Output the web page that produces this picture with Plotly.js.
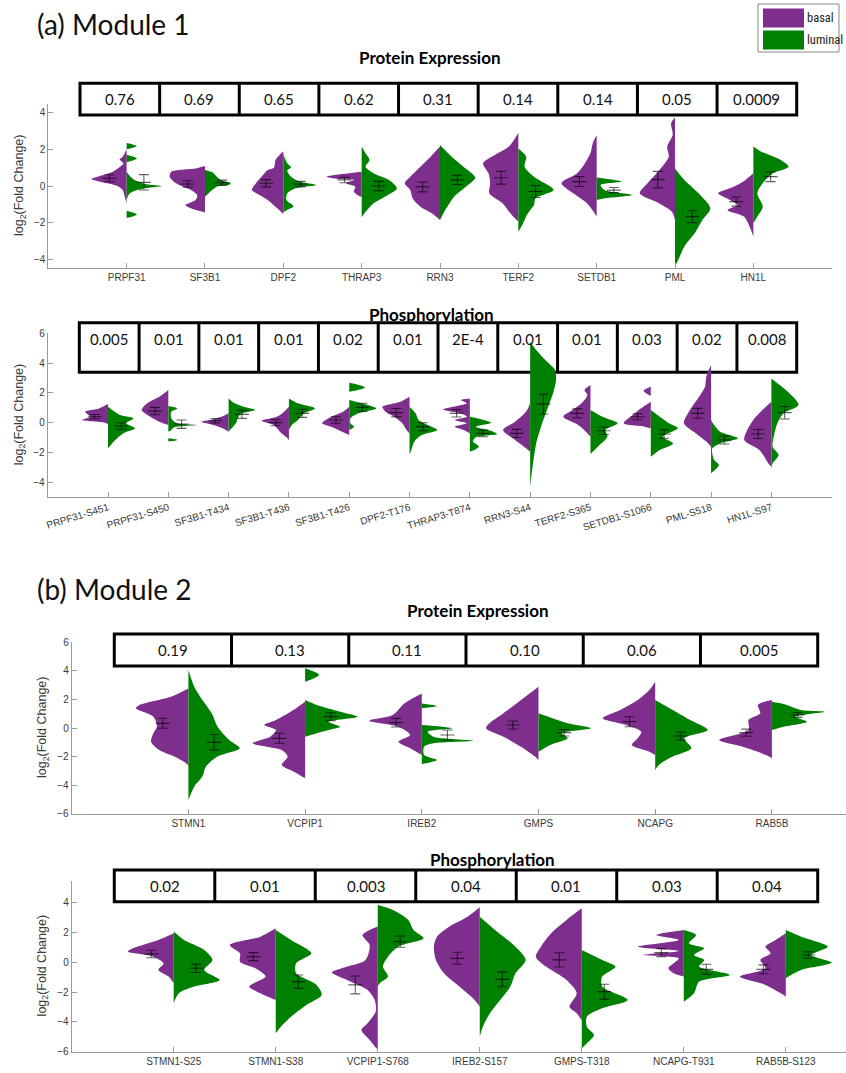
<!DOCTYPE html>
<html>
<head>
<meta charset="utf-8">
<script src="https://cdn.plot.ly/plotly-3.0.1.min.js"></script>
<style>html,body{margin:0;padding:0;background:#fff;}#chart{width:846px;height:1073px;}</style>
</head>
<body>
<div id="chart"></div>
<script>
// ---------------- DATA ----------------
const groups = ['basal', 'luminal'];

// Module 1 – Protein Expression
const p1Names = ['PRPF31','SF3B1','DPF2','THRAP3','RRN3','TERF2','SETDB1','PML','HN1L'];
const p1P = ['0.76','0.69','0.65','0.62','0.31','0.14','0.14','0.05','0.0009'];
const p1BasalDens = [
  [[2.0,0],[1.6,0.05],[1.45,0.09],[1.24,0.04],[1.0,0.1],[0.73,0.2],[0.5,0.37],[0.38,0.45],[0.24,0.35],[0,0.12],[-0.22,0.05],[-0.5,0.03],[-0.95,0]],
  [[1.09,0],[0.96,0.12],[0.78,0.43],[0.5,0.45],[0.24,0.4],[0.05,0.33],[-0.22,0.18],[-0.5,0.1],[-0.76,0.12],[-1.04,0.25],[-1.22,0.18],[-1.44,0]],
  [[1.9,0],[1.42,0.1],[1.0,0.12],[0.87,0.2],[0.5,0.28],[0.15,0.35],[-0.22,0.4],[-0.5,0.3],[-0.76,0.2],[-1.13,0.1],[-1.4,0.03],[-1.53,0]],
  [[0.78,0],[0.65,0.25],[0.5,0.45],[0.38,0.3],[0.33,0.1],[0.15,0.2],[-0.04,0.08],[-0.3,0.1],[-0.5,0.05],[-0.6,0]],
  [[2.15,0],[1.6,0.12],[1.05,0.25],[0.5,0.38],[0.15,0.45],[-0.22,0.38],[-0.67,0.35],[-1.13,0.25],[-1.5,0.1],[-1.85,0]],
  [[2.9,0],[2.15,0.12],[1.69,0.3],[1.24,0.45],[0.69,0.38],[0.15,0.36],[-0.4,0.37],[-0.95,0.2],[-1.5,0.1],[-1.95,0]],
  [[2.78,0],[2.33,0.05],[1.78,0.08],[1.24,0.15],[0.69,0.25],[0.15,0.45],[-0.4,0.3],[-0.95,0.12],[-1.4,0.04],[-1.67,0]],
  [[3.75,0],[3.42,0.05],[2.78,0.03],[2.15,0.1],[1.6,0.08],[0.87,0.2],[0.15,0.35],[-0.4,0.45],[-0.95,0.2],[-1.4,0.04],[-1.85,0]],
  [[0.69,0],[0.33,0.1],[-0.04,0.25],[-0.4,0.45],[-0.76,0.3],[-1.04,0.2],[-1.31,0.33],[-1.67,0.12],[-2.2,0.05],[-2.76,0]]
];
const p1LuminalDens = [
  [[2.35,0],[2.18,0.13],[2.0,0],[1.7,0],[1.5,0.13],[1.3,0],[0.78,0],[0.5,0.05],[0.33,0.1],[0.1,0.25],[0,0.45],[-0.15,0.2],[-0.4,0.04],[-0.76,0],[-1.35,0],[-1.55,0.13],[-1.75,0]],
  [[0.87,0],[0.73,0.1],[0.5,0.15],[0.33,0.2],[0.15,0.33],[0.05,0.3],[-0.04,0.15],[-0.3,0.07],[-0.58,0]],
  [[1.75,0],[1.24,0.05],[1.02,0.1],[0.84,0.05],[0.5,0.1],[0.24,0.2],[0.05,0.42],[-0.13,0.15],[-0.4,0.05],[-0.76,0.04],[-1.1,0.13],[-1.3,0.05],[-1.45,0]],
  [[2.15,0],[1.78,0.05],[1.42,0.1],[1.05,0.05],[0.7,0.15],[0.33,0.35],[-0.13,0.45],[-0.5,0.33],[-0.95,0.15],[-1.4,0.05],[-1.7,0]],
  [[2.24,0],[1.6,0.15],[1.05,0.3],[0.45,0.45],[-0.04,0.33],[-0.58,0.18],[-1.22,0.08],[-1.85,0]],
  [[2.05,0],[1.6,0.1],[1.05,0.08],[0.5,0.2],[-0.22,0.45],[-0.67,0.22],[-1.04,0.2],[-1.5,0.12],[-2.13,0.05],[-2.5,0]],
  [[0.47,0],[0.24,0.32],[0.05,0.05],[-0.22,0.1],[-0.49,0.45],[-0.67,0.1],[-0.76,0]],
  [[0.96,0],[0.33,0.12],[-0.4,0.3],[-1.22,0.45],[-1.85,0.35],[-2.58,0.25],[-3.3,0.12],[-4.04,0.04],[-4.4,0]],
  [[2.15,0],[1.87,0.1],[1.42,0.35],[1.05,0.45],[0.69,0.25],[0.15,0.12],[-0.4,0.05],[-1.13,0.12],[-1.67,0.05],[-2.04,0]]
];
const p1BasalMean = [0.42,0.11,0.15,0.33,-0.05,0.45,0.24,0.35,-0.85];
const p1BasalSem  = [0.19,0.18,0.2,0.15,0.27,0.35,0.27,0.45,0.25];
const p1LumMean   = [0.2,0.18,0.1,0,0.33,-0.3,-0.22,-1.67,0.51];
const p1LumSem    = [0.42,0.14,0.15,0.25,0.25,0.33,0.14,0.33,0.27];

// Module 1 – Phosphorylation
const p2Names = ['PRPF31-S451','PRPF31-S450','SF3B1-T434','SF3B1-T436','SF3B1-T426','DPF2-T176','THRAP3-T874','RRN3-S44','TERF2-S365','SETDB1-S1066','PML-S518','HN1L-S97'];
const p2P = ['0.005','0.01','0.01','0.01','0.02','0.01','2E-4','0.01','0.01','0.03','0.02','0.008'];
const p2BasalDens = [
  [[1.25,0],[0.96,0.15],[0.74,0.38],[0.4,0.3],[0.18,0.43],[0,0.05],[-0.1,0]],
  [[2.2,0],[1.74,0.15],[1.3,0.35],[0.85,0.44],[0.4,0.3],[0.07,0.15],[-0.16,0]],
  [[0.63,0],[0.4,0.12],[0.18,0.3],[0.07,0.45],[-0.16,0.25],[-0.38,0.1],[-0.6,0]],
  [[1.07,0],[0.74,0.08],[0.4,0.2],[0.13,0.45],[-0.16,0.25],[-0.6,0.15],[-0.94,0.05],[-1.16,0]],
  [[1.07,0],[0.74,0.1],[0.4,0.3],[-0.04,0.45],[-0.27,0.3],[-0.6,0.12],[-0.83,0]],
  [[1.74,0],[1.41,0.15],[1.07,0.45],[0.74,0.4],[0.4,0.25],[-0.04,0.12],[-0.49,0.05],[-0.72,0]],
  [[1.63,0],[1.52,0.15],[1.3,0.05],[0.89,0.44],[0.63,0.15],[0.4,0.05],[0.18,0.25],[-0.04,0.05],[-0.27,0.25],[-0.49,0.1],[-0.72,0]],
  [[1.3,0],[0.85,0.05],[0.51,0.12],[0.07,0.25],[-0.49,0.45],[-1.16,0.25],[-1.61,0.1],[-1.95,0]],
  [[2.53,0],[2.19,0.1],[1.86,0.05],[1.3,0.15],[0.85,0.3],[0.4,0.45],[-0.16,0.2],[-0.72,0.05],[-0.94,0]],
  [[2.42,0],[2.15,0.12],[1.79,0],[1.41,0],[1.19,0.08],[0.85,0.2],[0.51,0.3],[-0.04,0.45],[-0.27,0.1],[-0.38,0]],
  [[3.87,0],[3.09,0.08],[2.42,0.1],[1.74,0.2],[0.85,0.35],[-0.04,0.45],[-0.72,0.25],[-1.27,0.08],[-1.61,0]],
  [[1.41,0],[0.85,0.15],[0.18,0.3],[-0.49,0.4],[-1.16,0.45],[-1.83,0.2],[-2.73,0.05],[-2.95,0]]
];
const p2LuminalDens = [
  [[1.07,0],[0.51,0.2],[0.29,0.42],[-0.04,0.3],[-0.38,0.45],[-0.72,0.25],[-1.16,0.12],[-1.72,0]],
  [[1.12,0],[0.96,0.15],[0.74,0.05],[0.29,0.05],[-0.04,0.15],[-0.16,0.47],[-0.31,0.1],[-0.49,0.05],[-0.6,0],[-1.05,0],[-1.16,0.15],[-1.27,0]],
  [[1.63,0],[1.3,0.1],[1.07,0.25],[0.85,0.44],[0.58,0.2],[0.29,0.15],[-0.04,0.12],[-0.38,0.05],[-0.6,0]],
  [[1.63,0],[1.3,0.15],[0.96,0.43],[0.63,0.25],[0.18,0.15],[-0.16,0.05],[-0.49,0]],
  [[2.68,0],[2.37,0.26],[2.08,0],[1.52,0],[1.3,0.2],[0.96,0.45],[0.63,0.15],[0.29,0.02],[-0.04,0.02],[-0.27,0.08],[-0.49,0]],
  [[1.07,0],[0.63,0.1],[0.18,0.15],[-0.16,0.3],[-0.49,0.46],[-0.83,0.2],[-1.27,0.08],[-1.95,0.02],[-2.1,0]],
  [[0.4,0],[0,0.35],[-0.27,0.1],[-0.54,0.35],[-0.76,0.45],[-0.98,0.1],[-1.27,0.05],[-1.61,0.15],[-1.95,0]],
  [[5.44,0],[4.88,0.1],[4.2,0.25],[3.53,0.41],[2.86,0.43],[1.97,0.38],[0.85,0.28],[-0.27,0.18],[-1.39,0.1],[-2.95,0.04],[-4.3,0]],
  [[0.85,0],[0.4,0.2],[-0.04,0.45],[-0.49,0.25],[-0.94,0.28],[-1.61,0.12],[-2.1,0]],
  [[0.85,0],[0.4,0.15],[-0.04,0.3],[-0.38,0.45],[-0.94,0.2],[-1.39,0.37],[-1.83,0.15],[-2.28,0]],
  [[0.18,0],[-0.16,0.05],[-0.6,0.15],[-1.05,0.45],[-1.39,0.15],[-1.72,0.02],[-2.06,0.02],[-2.5,0.05],[-2.84,0.13],[-3.4,0]],
  [[2.97,0],[2.64,0.1],[1.97,0.3],[1.19,0.45],[0.63,0.2],[-0.04,0.1],[-0.72,0.05],[-1.61,0.02],[-2.17,0.12],[-2.73,0.02],[-3.06,0]]
];
const p2BasalMean = [0.4,0.78,0.13,0,0.18,0.67,0.63,-0.72,0.63,0.4,0.63,-0.76];
const p2BasalSem  = [0.15,0.25,0.15,0.2,0.22,0.28,0.25,0.27,0.3,0.2,0.33,0.3];
const p2LumMean   = [-0.22,-0.1,0.56,0.63,1.03,-0.27,-0.72,1.25,-0.54,-0.76,-1.16,0.67];
const p2LumSem    = [0.22,0.28,0.27,0.27,0.28,0.27,0.22,0.67,0.25,0.28,0.27,0.42];

// Module 2 – Protein Expression
const p3Names = ['STMN1','VCPIP1','IREB2','GMPS','NCAPG','RAB5B'];
const p3P = ['0.19','0.13','0.11','0.10','0.06','0.005'];
const p3BasalDens = [
  [[2.77,0],[2.19,0.15],[1.61,0.42],[1.38,0.45],[0.79,0.3],[0.09,0.27],[-0.37,0.3],[-0.96,0.32],[-1.54,0.25],[-2.0,0.12],[-2.47,0.02],[-2.66,0]],
  [[1.84,0],[1.26,0.1],[0.56,0.25],[0.21,0.35],[-0.14,0.25],[-0.61,0.3],[-1.07,0.45],[-1.54,0.2],[-2.0,0.15],[-2.59,0.2],[-3.05,0.1],[-3.52,0]],
  [[2.42,0],[1.72,0.15],[0.91,0.25],[0.51,0.45],[0.09,0.2],[-0.49,0.1],[-0.96,0.2],[-1.42,0.1],[-1.89,0]],
  [[2.89,0],[1.96,0.15],[1.03,0.3],[0.33,0.42],[-0.02,0.45],[-0.61,0.3],[-1.31,0.15],[-2.0,0.03],[-2.24,0]],
  [[3.24,0],[2.66,0.05],[1.96,0.15],[1.26,0.3],[0.68,0.45],[0.21,0.25],[-0.26,0.12],[-0.72,0.15],[-1.19,0.2],[-1.66,0.05],[-1.89,0]],
  [[1.96,0],[1.61,0.12],[1.03,0.1],[0.56,0.2],[-0.14,0.2],[-0.84,0.45],[-1.31,0.25],[-1.89,0.05],[-2.12,0]]
];
const p3LuminalDens = [
  [[4.05,0],[2.89,0.05],[1.96,0.12],[1.03,0.2],[0.09,0.25],[-0.84,0.35],[-1.42,0.44],[-2.0,0.25],[-2.7,0.15],[-3.4,0.12],[-4.1,0.05],[-5.03,0]],
  [[4.17,0],[3.71,0.12],[3.24,0],[1.96,0],[1.61,0.1],[1.14,0.3],[0.79,0.45],[0.44,0.2],[0.09,0.3],[-0.14,0.2],[-0.49,0.05],[-0.61,0]],
  [[1.72,0],[1.54,0.13],[1.38,0],[0.21,0],[-0.02,0.26],[-0.26,0.05],[-0.61,0.1],[-0.89,0.44],[-1.07,0.1],[-1.31,0.02],[-1.89,0.02],[-2.24,0.13],[-2.52,0]],
  [[1.03,0],[0.68,0.12],[0.33,0.25],[-0.02,0.45],[-0.37,0.2],[-0.72,0.25],[-1.19,0.1],[-1.66,0]],
  [[1.96,0],[1.26,0.15],[0.56,0.3],[-0.14,0.45],[-0.72,0.25],[-1.42,0.31],[-2.0,0.15],[-2.59,0.03],[-2.94,0]],
  [[1.84,0],[1.68,0.1],[1.26,0.25],[1.14,0.45],[0.79,0.2],[0.44,0.3],[0.09,0.1],[-0.14,0]]
];
const p3BasalMean = [0.33,-0.72,0.37,0.21,0.44,-0.33];
const p3BasalSem  = [0.35,0.35,0.3,0.28,0.35,0.25];
const p3LumMean   = [-1.0,0.79,-0.49,-0.33,-0.56,0.91];
const p3LumSem    = [0.55,0.28,0.35,0.23,0.28,0.17];

// Module 2 – Phosphorylation
const p4Names = ['STMN1-S25','STMN1-S38','VCPIP1-S768','IREB2-S157','GMPS-T318','NCAPG-T931','RAB5B-S123'];
const p4P = ['0.02','0.01','0.003','0.04','0.01','0.03','0.04'];
const p4BasalDens = [
  [[1.95,0],[1.5,0.15],[0.94,0.4],[0.72,0.45],[0.38,0.2],[-0.07,0.1],[-0.51,0.15],[-0.96,0.05],[-1.41,0]],
  [[2.28,0],[1.72,0.15],[1.16,0.45],[0.6,0.35],[0.04,0.35],[-0.4,0.2],[-0.96,0.1],[-1.63,0.26],[-2.08,0.15],[-2.53,0]],
  [[2.4,0],[1.83,0.15],[1.16,0.08],[0.16,0.12],[-0.29,0.3],[-0.69,0.45],[-1.19,0.3],[-1.86,0.1],[-2.53,0.03],[-3.31,0.02],[-4.09,0.1],[-4.54,0.16],[-5.21,0.08],[-5.88,0]],
  [[3.69,0],[3.06,0.12],[2.39,0.3],[1.72,0.42],[1.05,0.45],[0.16,0.43],[-0.74,0.35],[-1.63,0.2],[-2.53,0.05],[-2.98,0]],
  [[3.62,0],[2.84,0.15],[1.95,0.3],[1.05,0.4],[0.38,0.45],[-0.29,0.35],[-1.19,0.15],[-2.08,0.05],[-2.98,0.12],[-3.42,0.05],[-3.9,0]],
  [[2.17,0],[1.83,0.27],[1.5,0.05],[1.05,0.45],[0.76,0.05],[0.49,0.4],[0.27,0.05],[-0.07,0.1],[-0.4,0.15],[-0.74,0.1],[-0.96,0]],
  [[1.95,0],[1.5,0.1],[1.05,0.2],[0.6,0.15],[0.16,0.25],[-0.4,0.2],[-0.96,0.45],[-1.52,0.2],[-2.08,0.05],[-2.3,0]]
];
const p4LuminalDens = [
  [[2.06,0],[1.5,0.1],[0.83,0.3],[0.16,0.38],[-0.51,0.3],[-1.19,0.45],[-1.63,0.2],[-2.08,0.05],[-2.75,0]],
  [[2.17,0],[1.5,0.15],[0.6,0.35],[-0.07,0.2],[-0.74,0.2],[-1.52,0.4],[-2.19,0.45],[-2.86,0.3],[-3.65,0.15],[-4.32,0.05],[-4.77,0]],
  [[3.85,0],[3.51,0.15],[2.84,0.3],[2.17,0.35],[1.61,0.45],[1.05,0.2],[0.38,0.1],[-0.29,0.05],[-0.96,0.1],[-1.41,0.02],[-1.63,0]],
  [[3.06,0],[2.17,0.15],[1.05,0.35],[0.16,0.45],[-0.74,0.35],[-1.63,0.3],[-2.53,0.2],[-3.42,0.1],[-4.32,0.03],[-4.99,0]],
  [[0.83,0],[0.16,0.2],[-0.29,0.33],[-0.96,0.2],[-1.63,0.2],[-2.53,0.45],[-3.09,0.2],[-3.65,0.05],[-4.32,0.05],[-4.88,0.12],[-5.44,0.05],[-5.77,0]],
  [[2.17,0],[1.83,0.12],[1.28,0.05],[0.94,0.2],[0.49,0.1],[0.16,0.2],[-0.29,0.15],[-0.85,0.45],[-1.3,0.15],[-2.08,0.1],[-2.64,0]],
  [[2.17,0],[1.72,0.15],[1.05,0.41],[0.49,0.25],[-0.02,0.45],[-0.51,0.15],[-0.85,0.05],[-1.07,0]]
];
const p4BasalMean = [0.56,0.38,-1.52,0.27,0.16,0.65,-0.47];
const p4BasalSem  = [0.25,0.27,0.6,0.4,0.48,0.27,0.3];
const p4LumMean   = [-0.4,-1.3,1.39,-1.14,-1.97,-0.47,0.49];
const p4LumSem    = [0.28,0.45,0.38,0.5,0.5,0.34,0.22];

// ---------------- STYLE / LAYOUT ----------------
const W = 846, H = 1073;
const fx = px => px / W;
const fy = py => 1 - py / H;
const COL = {basal: 'rgb(126,47,142)', luminal: 'rgb(0,128,0)'};
const ERR = 'rgba(0,0,0,0.62)';
const TITLE_FONT = 'Lato, "Open Sans", sans-serif';
const TICK_FONT = '"Liberation Sans", Arial, sans-serif';
const LEG_FONT = '"Liberation Sans Narrow", "Roboto Condensed", "Liberation Sans", Arial, sans-serif';

const panels = [
  {names:p1Names, p:p1P, bD:p1BasalDens, lD:p1LuminalDens, bM:p1BasalMean, bS:p1BasalSem, lM:p1LumMean, lS:p1LumSem,
   title:'Protein Expression', tx:430, ty:57, xpx:[48.3,831.7], xr:[0,10], ypx:[104.4,267.6], yr:[-4.45,4.45],
   box:[80,796.7,83.3,115], textY:99, angle:0, ytx:20},
  {names:p2Names, p:p2P, bD:p2BasalDens, lD:p2LuminalDens, bM:p2BasalMean, bS:p2BasalSem, lM:p2LumMean, lS:p2LumSem,
   title:'Phosphorylation', tx:431, ty:314, xpx:[47.7,831.7], xr:[0,13], ypx:[333.3,497.2], yr:[-5,6],
   box:[79.3,796.7,322.7,372.3], textY:339, angle:-17, ytx:20},
  {names:p3Names, p:p3P, bD:p3BasalDens, lD:p3LuminalDens, bM:p3BasalMean, bS:p3BasalSem, lM:p3LumMean, lS:p3LumSem,
   title:'Protein Expression', tx:477.5, ty:610, xpx:[71.7,846], xr:[0,6.635], ypx:[642.2,813.8], yr:[-6,6],
   box:[114.3,817.7,634,666], textY:650, angle:0, ytx:43},
  {names:p4Names, p:p4P, bD:p4BasalDens, lD:p4LuminalDens, bM:p4BasalMean, bS:p4BasalSem, lM:p4LumMean, lS:p4LumSem,
   title:'Phosphorylation', tx:492.5, ty:859, xpx:[71.7,846], xr:[0,7.59], ypx:[881.1,1051.7], yr:[-6,5.45],
   box:[114.3,817.7,870,901.7], textY:886, angle:0, ytx:43}
];

function violinPath(dens, side) {
  const xs = [], ys = [];
  dens.forEach((prof, i) => {
    const c = i + 1;
    if (xs.length) { xs.push(null); ys.push(null); }
    for (let j = 0; j < prof.length; j++) {
      const yv = prof[j][0], w = prof[j][1];
      if (j > 0 && w === 0 && prof[j-1][1] === 0) { xs.push(null); ys.push(null); }
      xs.push(c + side * w); ys.push(yv);
    }
  });
  return {xs, ys};
}

const traces = [];
const layout = {
  width: W, height: H, margin: {l:0, r:0, t:0, b:0},
  paper_bgcolor: '#fff', plot_bgcolor: '#fff', showlegend: false,
  annotations: [], shapes: []
};

panels.forEach((P, k) => {
  const sfx = k === 0 ? '' : String(k + 1);
  const xa = 'x' + sfx, ya = 'y' + sfx;
  [['basal', P.bD, -1], ['luminal', P.lD, 1]].forEach(([g, dens, side]) => {
    const pth = violinPath(dens, side);
    traces.push({type:'scatter', mode:'lines', x:pth.xs, y:pth.ys, xaxis:xa, yaxis:ya,
      fill:'toself', fillcolor:COL[g], line:{width:0, color:COL[g], shape:'spline', smoothing:0.8},
      connectgaps:false, hoverinfo:'skip', name:g});
  });
  [['basal', P.bM, P.bS, -0.22], ['luminal', P.lM, P.lS, 0.22]].forEach(([g, m, s, off]) => {
    traces.push({type:'scatter', mode:'markers', x:m.map((_, i) => i + 1 + off), y:m, xaxis:xa, yaxis:ya,
      marker:{symbol:'line-ew', size:10, color:ERR, line:{width:1.2, color:ERR}},
      error_y:{type:'data', array:s, visible:true, width:5, thickness:1.1, color:ERR}, name:g + ' mean'});
  });
  layout['xaxis' + sfx] = {
    domain:[fx(P.xpx[0]), fx(P.xpx[1])], range:P.xr, anchor:ya,
    tickmode:'array', tickvals:P.names.map((_, i) => i + 1), ticktext:P.names, tickangle:P.angle,
    ticks:'inside', ticklen:5, tickcolor:'#9a9a9a', showline:true, linecolor:'#9a9a9a', linewidth:1,
    showgrid:false, zeroline:false, fixedrange:true,
    tickfont:{family:TICK_FONT, size:10, color:'#3a3a3a'}
  };
  layout['yaxis' + sfx] = {
    domain:[fy(P.ypx[1]), fy(P.ypx[0])], range:P.yr, anchor:xa,
    tickmode:'linear', tick0:0, dtick:2,
    ticks:'inside', ticklen:5, tickcolor:'#9a9a9a', showline:true, linecolor:'#9a9a9a', linewidth:1,
    showgrid:false, zeroline:false, fixedrange:true,
    tickfont:{family:TICK_FONT, size:10, color:'#3a3a3a'}
  };
  layout.annotations.push({xref:'paper', yref:'paper', x:fx(P.ytx), y:fy((P.ypx[0] + P.ypx[1]) / 2),
    text:'log<sub>2</sub>(Fold Change)', textangle:-90, showarrow:false, xanchor:'center', yanchor:'middle',
    font:{family:TICK_FONT, size:12.5, color:'#3a3a3a'}});
  layout.annotations.push({xref:'paper', yref:'paper', x:fx(P.tx), y:fy(P.ty), text:'<b>' + P.title + '</b>',
    showarrow:false, xanchor:'center', yanchor:'middle', font:{family:TITLE_FONT, size:17, color:'#000'}});
  const [bx0, bx1, by0, by1] = P.box;
  const n = P.p.length, cw = (bx1 - bx0) / n;
  layout.shapes.push({type:'rect', xref:'paper', yref:'paper', x0:fx(bx0), x1:fx(bx1), y0:fy(by1), y1:fy(by0),
    line:{color:'#000', width:3}, fillcolor:'rgba(255,255,255,1)', layer:'below'});
  for (let j = 1; j < n; j++) {
    layout.shapes.push({type:'line', xref:'paper', yref:'paper', x0:fx(bx0 + j * cw), x1:fx(bx0 + j * cw),
      y0:fy(by1), y1:fy(by0), line:{color:'#000', width:3}});
  }
  P.p.forEach((t, j) => {
    layout.annotations.push({xref:'paper', yref:'paper', x:fx(bx0 + (j + 0.5) * cw), y:fy(P.textY), text:t,
      showarrow:false, xanchor:'center', yanchor:'middle', font:{family:TITLE_FONT, size:15, color:'#111'}});
  });
});

[['(a) Module 1', 24], ['(b) Module 2', 589]].forEach(([t, py]) => {
  layout.annotations.push({xref:'paper', yref:'paper', x:fx(35), y:fy(py), text:t, showarrow:false,
    xanchor:'left', yanchor:'middle', font:{family:TITLE_FONT, size:28, color:'#111'}});
});

// legend box
layout.shapes.push({type:'rect', xref:'paper', yref:'paper', x0:fx(758), x1:fx(839), y0:fy(52), y1:fy(4),
  line:{color:'#888', width:1}, fillcolor:'#fff'});
groups.forEach((g, j) => {
  const top = 8.5 + j * 22;
  layout.shapes.push({type:'rect', xref:'paper', yref:'paper', x0:fx(763), x1:fx(804), y0:fy(top + 19), y1:fy(top),
    line:{width:0}, fillcolor:COL[g]});
  layout.annotations.push({xref:'paper', yref:'paper', x:fx(805), y:fy(top + 9.5), text:g, showarrow:false,
    xanchor:'left', yanchor:'middle', font:{family:LEG_FONT, size:12.5, color:'#222'}});
});

Plotly.newPlot('chart', traces, layout, {staticPlot:true});
</script>
</body>
</html>
